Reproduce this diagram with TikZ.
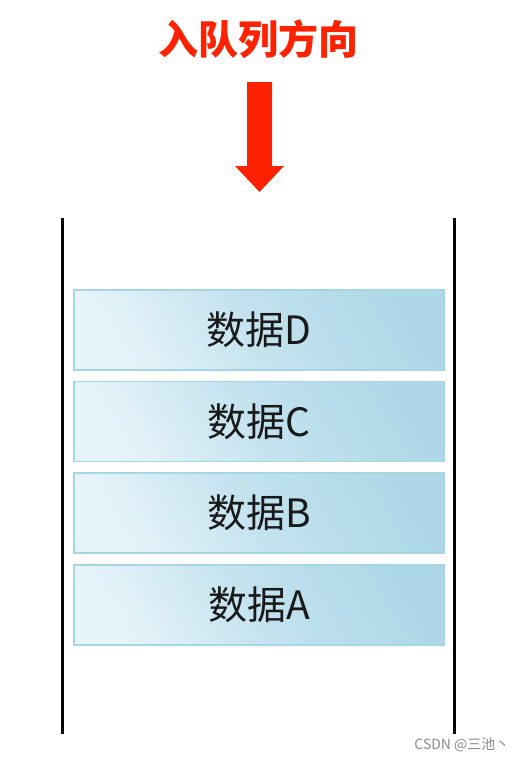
\documentclass[tikz,border=0pt]{standalone}
\usepackage{fontspec}
\setmainfont{Noto Sans CJK SC}
\newfontfamily\cjkfont{Noto Sans CJK SC}
\definecolor{titlered}{HTML}{FF2200}
\definecolor{boxedge}{HTML}{A6D6E6}
\definecolor{boxlight}{HTML}{E6F3F9}
\definecolor{boxmid}{HTML}{C2E2EE}
\definecolor{boxdark}{HTML}{AED8E8}
\definecolor{wmgray}{HTML}{8A8A8A}
\tikzset{
  databox/.style={shade, shading=axis, left color=boxlight, right color=boxdark, middle color=boxmid, shading angle=120,
    draw=boxedge, line width=1.5pt, minimum width=370pt, minimum height=80pt, inner sep=0pt,
    font=\cjkfont\fontsize{39}{42}\selectfont, text=black!90},
  wall/.style={line width=3pt, draw=black}
}
\begin{document}
\begin{tikzpicture}[x=1pt,y=-1pt]
\useasboundingbox (0,0) rectangle (526,761);
\node[font=\cjkfont\bfseries\fontsize{40}{44}\selectfont, text=titlered] (title) at (258.5,39) {入队列方向};
\fill[titlered] (247,82) -- (272,82) -- (272,166) -- (284,166) -- (259.5,192) -- (235,166) -- (247,166) -- cycle;
\coordinate (lt) at (62,218); \coordinate (lb) at (62,734);
\coordinate (rt) at (454,218); \coordinate (rb) at (454,734);
\draw[wall] (lt) -- (lb);
\draw[wall] (rt) -- (rb);
\node[databox] (d) at (259,330) {数据D};
\node[databox] (c) at (259,421.5) {数据C};
\node[databox] (b) at (259,513) {数据B};
\node[databox] (a) at (259,605) {数据A};
\node[font=\cjkfont\fontsize{14}{16}\selectfont, text=wmgray, anchor=east] (wm) at (513,745) {CSDN @三池丶};
\end{tikzpicture}
\end{document}
